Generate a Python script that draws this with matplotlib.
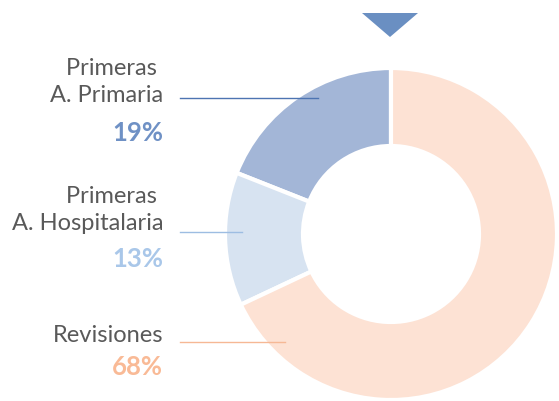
import matplotlib.pyplot as plt

labels = ["Primeras \nA. Primaria", "Primeras \nA. Hospitalaria", "Revisiones"]
values = [19, 13, 68]
slice_colors = ["#a3b6d7", "#d7e3f1", "#fde2d4"]
pct_colors = ["#6f91c5", "#a9c7e9", "#f9ba96"]
line_colors = ["#4d74b2", "#9dbde2", "#f6b895"]

W, H = 559, 401
fig = plt.figure(figsize=(W / 100, H / 100), dpi=100)
ax = fig.add_axes([0, 0, 1, 1])

cx, cy, r = 391, H - 234, 166
ax.pie(values, colors=slice_colors, startangle=90, counterclock=True,
       center=(cx, cy), radius=r,
       wedgeprops=dict(width=r - 88, edgecolor="white", linewidth=3))

# label layout (pixel coords, y from top)
text_right = 163
name_y = [82, 210, 335]
pct_y = [133, 259, 367]
line_y = [98, 232, 342]
line_end = [318, 242, 285]

for i, lab in enumerate(labels):
    ax.text(text_right, H - name_y[i], lab, ha="right", va="center",
            fontsize=17, color="#595959", family="Lato", linespacing=1.38)
    ax.text(text_right, H - pct_y[i], f"{values[i]}%", ha="right", va="center",
            fontsize=18.5, color=pct_colors[i], family="Lato", fontweight="bold")
    ax.plot([180, line_end[i]], [H - line_y[i]] * 2, color=line_colors[i], lw=1)

# pointer triangle at the top
ax.fill([362, 418, 390], [H - 13, H - 13, H - 37], color="#6a8fc2", lw=0)

ax.set_xlim(0, W)
ax.set_ylim(0, H)
ax.set_aspect("equal")
ax.axis("off")
fig.savefig("out.png", dpi=100)
